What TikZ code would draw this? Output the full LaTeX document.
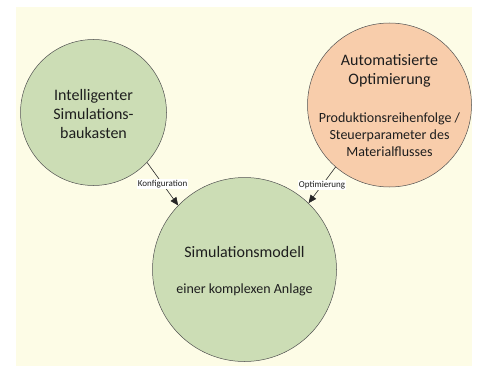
\documentclass[tikz,border=0pt]{standalone}
\usepackage{fontspec}
\setmainfont{Carlito}
\usetikzlibrary{arrows.meta}
\definecolor{bgyellow}{HTML}{FDFCE6}
\definecolor{cgreen}{HTML}{CCDDB5}
\definecolor{corange}{HTML}{F8CDAB}
\definecolor{txt}{HTML}{1E1E1E}
\definecolor{rim}{HTML}{505050}
\tikzset{
  bubble/.style={circle, draw=rim, line width=0.5pt, inner sep=0pt},
  bigtext/.style={align=center, text=txt, font=\fontsize{16}{19}\selectfont, inner sep=0pt},
  subtext/.style={align=center, text=txt, font=\fontsize{14}{17}\selectfont, inner sep=0pt},
  conn/.style={line width=0.6pt, draw=black!85, -{Triangle[length=8pt,width=7pt]}},
  lbl/.style={fill=white, inner sep=0.8pt, text=txt, font=\fontsize{9}{10}\selectfont}
}
\begin{document}
\begin{tikzpicture}[x=1pt,y=-1pt]
\useasboundingbox (0,0) rectangle (478,374);
\fill[white] (0,0) rectangle (478,374);
\fill[bgyellow] (16,7) rectangle (472,366);

\node[bubble, fill=cgreen, minimum size=146pt] (left) at (93.5,112.5) {};
\node[bubble, fill=corange, minimum size=164pt] (right) at (389.5,105) {};
\node[bubble, fill=cgreen, minimum size=184pt] (bottom) at (244.5,269.5) {};

\node[bigtext] (lefttext) at (93.5,114.5) {Intelligenter\\Simulations-\\baukasten};
\node[bigtext] (righttitle) at (389.5,71) {Automatisierte\\Optimierung};
\node[subtext] (rightsub) at (389.5,135) {Produktionsreihenfolge /\\Steuerparameter des\\Materialflusses};
\node[bigtext] (bottomtitle) at (244.5,252) {Simulationsmodell};
\node[subtext] (bottomsub) at (244.5,289.5) {einer komplexen Anlage};

\draw[conn] (left.-43) -- node[lbl, midway] (lblk) {Konfiguration} (bottom.136);
\draw[conn] (right.-131) -- node[lbl, midway] (lblo) {Optimierung} (bottom.46);
\end{tikzpicture}
\end{document}
